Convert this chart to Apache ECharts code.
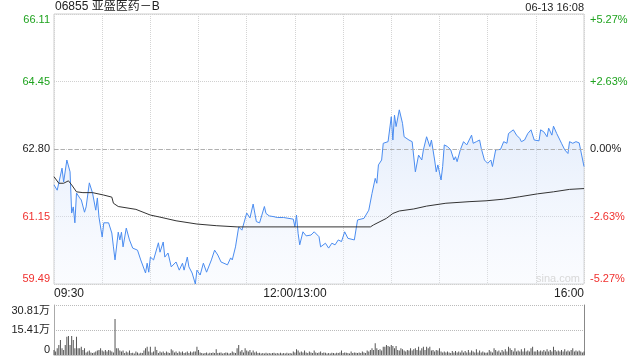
<!DOCTYPE html>
<html><head><meta charset="utf-8">
<script src="https://cdn.jsdelivr.net/npm/echarts@6/dist/echarts.min.js"></script>
<style>html,body{margin:0;padding:0;background:#fff}#c{width:640px;height:360px}</style>
</head><body><div id="c"></div>
<script>
const titleText = '06855 亚盛医药－B';
const stampText = '06-13 16:08';
const prevClose = 62.80;
const priceTicks = [59.49, 61.145, 62.80, 64.455, 66.11];
const priceLabels = ['59.49', '61.15', '62.80', '64.45', '66.11'];
const pctLabels = ['-5.27%', '-2.63%', '0.00%', '+2.63%', '+5.27%'];
const labelTone = ['r', 'r', 'k', 'g', 'g'];
const timeTicks = [0, 150, 330];
const timeLabels = ['09:30', '12:00/13:00', '16:00'];
const volTicks = [0, 15.41, 30.81];
const volLabels = ['0', '15.41万', '30.81万'];

// minutes since 09:30 (trading minutes) and price
const priceMin = [0,2,5,6,8,10,11,12,13,14,16,17,19,20,22,23,24,26,27,28,30,31,34,36,37,38,40,41,42,43,45,47,49,52,54,57,58,59,60,62,65,66,68,69,71,73,76,78,80,81,83,84,86,88,89,91,93,95,98,100,102,104,108,110,111,113,115,117,120,122,124,126,128,131,132,134,137,139,143,144,149,150,151,152,153,155,157,160,162,165,166,169,171,173,175,177,179,181,183,187,189,193,196,198,200,201,202,204,205,208,210,211,212,213,215,217,218,221,223,225,227,229,230,232,234,235,237,238,239,241,242,243,245,247,249,250,251,253,255,257,260,261,263,265,266,268,269,270,272,273,275,278,280,282,283,286,288,290,291,293,295,297,299,302,303,305,307,308,310,311,313,315,316,318,320,321,323,325,327,328,330];
const priceVal = [61.92,61.79,62.33,61.99,62.53,62.24,61.23,61.38,60.99,61.72,61.60,61.55,61.25,61.38,61.97,61.97,61.72,61.30,61.60,61.13,60.64,60.99,60.99,60.74,60.40,60.08,60.76,60.57,60.76,60.40,60.86,60.57,60.37,60.32,60.08,59.76,60.00,59.78,60.15,60.08,60.50,60.27,60.52,60.15,60.25,59.91,60.03,59.83,60.00,59.83,60.15,59.91,59.76,59.49,59.83,59.71,60.00,59.78,60.08,60.32,60.20,60.03,59.96,60.13,60.08,60.40,60.89,60.81,61.23,61.11,61.45,61.02,60.99,61.39,61.22,61.16,61.14,61.12,61.12,61.08,61.08,60.89,61.18,60.73,60.45,60.77,60.67,60.69,60.77,60.65,60.40,60.49,60.37,60.49,60.45,60.57,60.53,60.77,60.61,60.57,61.06,61.10,61.30,61.71,62.08,61.96,62.41,62.53,62.94,62.98,63.59,63.02,63.63,63.35,63.76,63.43,63.10,63.02,62.98,62.24,62.65,62.53,62.78,63.10,62.86,63.02,62.53,62.24,62.41,62.04,62.37,62.90,62.86,62.78,62.53,62.61,62.49,62.78,62.98,62.90,63.14,62.94,62.98,63.02,62.82,62.53,62.57,62.45,62.53,62.37,62.78,62.79,62.98,62.94,63.18,63.27,63.14,63.06,62.98,63.02,63.18,63.27,63.02,63.00,63.27,63.22,63.10,63.31,63.14,63.36,63.18,63.02,62.94,62.78,62.69,62.98,62.94,62.98,62.95,62.98,62.37];

const avgMin = [0,3,6,9,11,14,18,24,31,36,37,40,51,60,66,76,89,101,114,122,197,199,203,207,211,215,224,232,244,259,269,280,290,301,311,321,330];
const avgVal = [62.12,61.96,61.96,62.02,61.92,61.75,61.73,61.73,61.67,61.62,61.47,61.39,61.32,61.18,61.13,61.04,60.96,60.92,60.89,60.89,60.89,60.94,61.02,61.10,61.22,61.28,61.33,61.40,61.47,61.51,61.53,61.57,61.63,61.70,61.75,61.81,61.83];

// volume per minute, in 万
const volVal = [
3.1,2.1,4.1,6.2,9.2,4.1,3.1,6.2,11.3,11.7,
6.2,11.7,9.2,4.1,11.3,4.1,4.1,5.1,3.1,4.1,
1.6,2.1,2.7,1.6,1.2,1.6,2.1,2.7,3.1,4.1,
2.7,2.1,3.1,2.1,3.1,2.7,2.1,1.6,22.2,4.1,
4.1,2.7,2.1,2.7,1.2,2.1,1.6,2.7,1.2,1.4,
1.0,2.1,1.6,1.0,1.4,1.2,2.7,4.1,5.1,2.1,
5.1,1.6,2.1,5.1,3.1,1.2,2.1,1.6,2.1,1.2,
2.1,1.6,1.2,3.5,2.7,1.6,2.1,1.2,2.1,1.6,
2.1,1.2,1.6,2.1,1.2,2.1,1.6,2.1,2.1,5.1,
3.1,1.6,1.2,1.0,1.2,1.6,1.0,1.4,1.2,1.6,
1.2,3.5,1.2,1.4,1.6,1.0,1.2,1.6,1.4,1.0,
1.2,2.1,1.6,1.2,4.1,6.2,2.1,3.1,1.6,4.1,
2.7,2.1,3.1,1.6,2.7,1.6,2.1,1.2,1.4,1.0,
1.2,1.0,1.4,1.0,1.2,1.0,1.2,1.4,1.0,1.2,
1.0,1.4,1.0,1.2,1.0,1.4,1.0,1.2,1.0,2.1,
1.6,3.5,2.7,1.6,2.1,1.6,2.7,1.6,1.2,2.1,
1.6,1.2,2.7,1.6,1.2,1.6,2.1,1.2,1.6,1.4,
1.0,1.2,1.0,1.4,1.2,1.0,1.4,1.2,1.6,2.7,
1.2,1.6,1.4,1.2,1.0,2.1,1.2,1.6,1.4,1.2,
1.6,1.2,2.1,1.6,1.2,2.7,2.1,3.1,4.1,3.1,
7.2,4.1,3.1,3.5,2.7,5.1,5.1,6.2,5.5,5.1,
6.2,5.5,4.1,5.5,3.1,2.7,4.1,3.5,2.7,2.1,
3.1,2.7,4.1,2.7,3.5,4.1,3.1,5.1,2.7,4.1,
5.1,3.1,5.1,4.1,5.1,2.7,3.1,2.1,3.1,2.7,
4.1,2.1,1.6,2.1,1.6,2.1,1.6,1.2,2.5,1.6,
2.5,1.6,2.1,1.6,2.7,1.6,2.5,1.6,3.1,1.6,
2.7,2.1,1.6,3.5,1.6,2.7,1.6,2.1,1.6,1.4,
1.6,3.1,2.1,1.6,4.1,3.1,2.1,2.7,1.6,3.1,
2.1,3.5,2.1,5.1,4.1,3.1,2.1,4.1,2.1,2.7,
2.1,3.5,2.1,4.1,2.1,2.7,2.1,4.1,5.1,2.1,
2.1,3.1,2.1,2.7,2.1,3.1,2.1,3.5,2.1,3.1,
2.1,5.1,3.1,2.1,2.7,2.1,3.1,2.1,3.5,2.1,
2.7,2.1,3.1,4.1,2.1,2.7,2.1,2.7,2.1,1.6,
2.1];

const GREEN = '#1fa31f', RED = '#f0302e', DARK = '#222';
const FONT = 'Liberation Sans, Arial, "Noto Sans CJK SC", sans-serif';
const rich = {
  g: {color: GREEN, fontSize: 11, fontFamily: FONT},
  r: {color: RED, fontSize: 11, fontFamily: FONT},
  k: {color: DARK, fontSize: 11, fontFamily: FONT}
};
function nearestIdx(arr, v) {
  let b = 0;
  for (let i = 1; i < arr.length; i++) if (Math.abs(arr[i] - v) < Math.abs(arr[b] - v)) b = i;
  return b;
}

const chart = echarts.init(document.getElementById('c'), null, {renderer: 'canvas'});
const option = {
  animation: false,
  backgroundColor: '#fff',
  textStyle: {fontFamily: FONT},
  grid: [
    {left: 54, right: 56, top: 14, height: 270, show: true, borderColor: '#cfcfcf', borderWidth: 1, backgroundColor: 'transparent'},
    {left: 54, right: 56, top: 305, height: 50, show: false}
  ],
  xAxis: [
    {
      type: 'value', gridIndex: 0, min: 0, max: 330, interval: 30,
      axisLine: {show: false}, axisTick: {show: false},
      splitLine: {show: true, lineStyle: {color: '#d4d4d4', type: 'dotted', width: 1}},
      axisLabel: {
        show: true, customValues: timeTicks, margin: 4, color: DARK, fontSize: 12, fontFamily: FONT,
        alignMinLabel: 'left', alignMaxLabel: 'right',
        formatter: v => timeLabels[nearestIdx(timeTicks, v)]
      }
    },
    {
      type: 'value', gridIndex: 1, min: 0, max: 330,
      axisLine: {show: true, lineStyle: {color: '#ccc'}}, axisTick: {show: false},
      splitLine: {show: false}, axisLabel: {show: false}
    }
  ],
  yAxis: [
    {
      type: 'value', gridIndex: 0, min: 59.49, max: 66.11, position: 'left',
      axisLine: {show: false},
      axisTick: {show: false, customValues: priceTicks},
      splitLine: {show: true, lineStyle: {color: '#d0d0d0', type: 'dotted', width: 1}},
      axisLabel: {
        customValues: priceTicks, margin: 4, rich: rich,
        verticalAlignMinLabel: 'bottom', verticalAlignMaxLabel: 'top',
        formatter: v => { const i = nearestIdx(priceTicks, v); return '{' + labelTone[i] + '|' + priceLabels[i] + '}'; }
      }
    },
    {
      type: 'value', gridIndex: 0, min: 59.49, max: 66.11, position: 'right',
      axisLine: {show: false},
      axisTick: {show: false, customValues: priceTicks},
      splitLine: {show: false},
      axisLabel: {
        customValues: priceTicks, margin: 6, rich: rich,
        verticalAlignMinLabel: 'bottom', verticalAlignMaxLabel: 'top',
        formatter: v => { const i = nearestIdx(priceTicks, v); return '{' + labelTone[i] + '|' + pctLabels[i] + '}'; }
      }
    },
    {
      type: 'value', gridIndex: 1, min: 0, max: 30.81, position: 'left',
      axisLine: {show: true, lineStyle: {color: '#aaa'}},
      axisTick: {show: false, customValues: volTicks},
      splitLine: {show: true, lineStyle: {color: '#bbb', type: 'dotted', width: 1}},
      axisLabel: {
        customValues: volTicks, margin: 4, color: DARK, fontSize: 11, fontFamily: FONT,
        verticalAlignMinLabel: 'bottom', verticalAlignMaxLabel: 'top',
        formatter: v => volLabels[nearestIdx(volTicks, v)]
      }
    },
    {
      type: 'value', gridIndex: 1, min: 0, max: 30.81, position: 'right',
      axisLine: {show: true, lineStyle: {color: '#888'}},
      axisTick: {show: false}, splitLine: {show: false}, axisLabel: {show: false}
    }
  ],
  series: [
    {
      type: 'line', xAxisIndex: 0, yAxisIndex: 0, symbol: 'none', silent: true,
      data: priceMin.map((m, i) => [m, priceVal[i]]),
      lineStyle: {color: '#4a8cf0', width: 1},
      areaStyle: {
        origin: 'start',
        color: new echarts.graphic.LinearGradient(0, 0, 0, 1, [
          {offset: 0, color: 'rgba(200,218,248,0.75)'},
          {offset: 1, color: 'rgba(236,242,253,0.35)'}
        ])
      },
      markLine: {
        silent: true, symbol: 'none', label: {show: false},
        lineStyle: {color: '#b0b0b0', type: [4, 3], width: 1},
        data: [{yAxis: prevClose}]
      },
      z: 3
    },
    {
      type: 'line', xAxisIndex: 0, yAxisIndex: 0, symbol: 'none', silent: true,
      data: avgMin.map((m, i) => [m, avgVal[i]]),
      lineStyle: {color: '#333', width: 1},
      z: 4
    },
    {
      type: 'bar', xAxisIndex: 1, yAxisIndex: 2, silent: true,
      data: volVal.map((v, i) => [i, v]),
      barWidth: 1, itemStyle: {color: '#555'}
    }
  ],
  graphic: [
    {type: 'text', left: 55, top: 1, style: {text: titleText, fill: DARK, fontSize: 12, fontFamily: FONT}, z: 10},
    {type: 'text', right: 56, top: 2, style: {text: stampText, fill: DARK, fontSize: 11, fontFamily: FONT}, z: 10},
    {type: 'text', right: 60, top: 273, style: {text: 'sina.com', fill: '#d8d8d8', fontSize: 11, fontFamily: FONT}, z: 10}
  ]
};
chart.setOption(option);
</script>
</body></html>
